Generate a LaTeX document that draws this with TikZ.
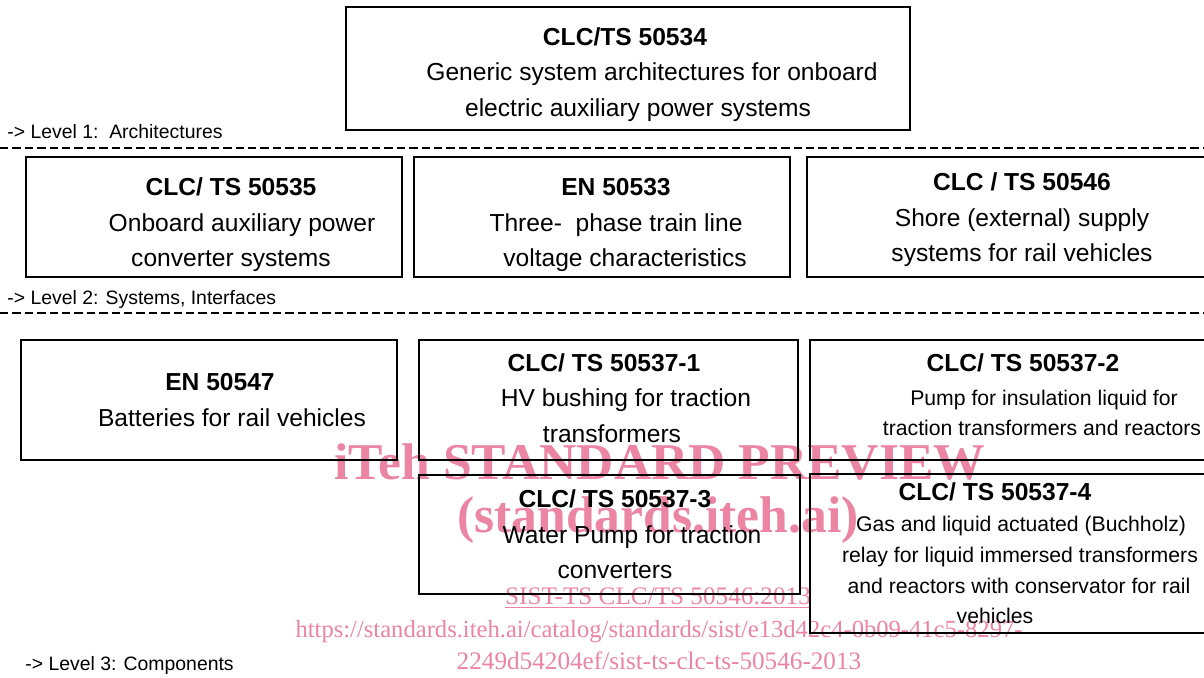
\documentclass[tikz,border=0pt]{standalone}
\usepackage{fontspec}
\setmainfont{Liberation Sans}
\newfontfamily\wmfont{Liberation Serif}
\definecolor{wmPink}{RGB}{236,132,163}
\tikzset{
  stdbox/.style={draw=black,line width=.65pt,inner sep=0pt},
  stdtext/.style={align=center,inner sep=0pt,font=\fontsize{12.3}{17.8}\selectfont},
  smalltext/.style={align=center,inner sep=0pt,font=\fontsize{10.6}{15}\selectfont},
  levellabel/.style={anchor=west,inner sep=0pt,font=\fontsize{9.7}{11}\selectfont},
  levelline/.style={line width=1pt,dash pattern=on 4.2pt off 2pt},
  wmtitle/.style={text=wmPink,inner sep=0pt,font=\wmfont\bfseries\fontsize{25.8}{28}\selectfont},
  wmsmall/.style={text=wmPink,inner sep=0pt,font=\wmfont\fontsize{12.6}{14}\selectfont}
}
\begin{document}
\begin{tikzpicture}[x=0.5pt,y=-0.5pt]
\clip (0,0) rectangle (1204,677);
\fill[white] (0,0) rectangle (1204,677);

% watermark
\node[wmtitle] (wmA) at (660,462) {iTeh STANDARD PREVIEW};
\node[wmtitle] (wmB) at (658,520) {(standards.iteh.ai)};
\node[wmsmall] (wmC) at (658,598) {\underline{SIST-TS CLC/TS 50546:2013}};
\node[wmsmall,font=\wmfont\fontsize{12.3}{14}\selectfont] (wmD) at (659,632) {https://standards.iteh.ai/catalog/standards/sist/e13d42c4-0b09-41c5-8297-};
\node[wmsmall] (wmE) at (659,661) {2249d54204ef/sist-ts-clc-ts-50546-2013};

% level 1
\node[stdbox,minimum width=282pt,minimum height=61.5pt] (ts50534) at (628,68.5) {};
\node[stdtext] (ts50534txt) at ([xshift=-1.5pt,yshift=-3pt]ts50534.center) {{\bfseries CLC/TS 50534}\\\hspace*{27pt}Generic system architectures for onboard\\\hspace*{13pt}electric auxiliary power systems};
\node[levellabel] (lvlA) at (7,132) {-> Level 1:\ \ Architectures};
\draw[levelline] (0,148) -- (1204,148);

% level 2
\node[stdbox,minimum width=188pt,minimum height=60pt] (ts50535) at (214,217) {};
\node[stdtext] (ts50535txt) at ([xshift=8.5pt,yshift=-4pt]ts50535.center) {{\bfseries CLC/ TS 50535}\\\hspace*{11pt}Onboard auxiliary power\\converter systems};
\node[stdbox,minimum width=188pt,minimum height=60pt] (en50533) at (602,217) {};
\node[stdtext] (en50533txt) at ([xshift=7pt,yshift=-4pt]en50533.center) {{\bfseries EN 50533}\\Three-\ \ phase train line\\\hspace*{9pt}voltage characteristics};
\node[stdbox,minimum width=204pt,minimum height=60pt] (ts50546) at (1011,217) {};
\node[stdtext] (ts50546txt) at ([xshift=5.5pt,yshift=-1.5pt]ts50546.center) {{\bfseries CLC / TS 50546}\\Shore (external) supply\\systems for rail vehicles};
\node[levellabel] (lvlB) at (7,299) {-> Level 2: Systems, Interfaces};
\draw[levelline] (0,313) -- (1204,313);

% level 3
\node[stdbox,minimum width=188pt,minimum height=60pt] (en50547) at (209,400) {};
\node[stdtext] (en50547txt) at ([xshift=5.5pt]en50547.center) {{\bfseries EN 50547}\\\hspace*{12pt}Batteries for rail vehicles};
\node[stdbox,minimum width=189.5pt,minimum height=60pt] (ts50537a) at (608.5,400) {};
\node[stdtext] (ts50537atxt) at ([xshift=-2.25pt,yshift=1pt]ts50537a.center) {{\bfseries CLC/ TS 50537-1}\\\hspace*{22pt}HV bushing for traction\\\hspace*{8pt}transformers};
\node[stdbox,minimum width=202.5pt,minimum height=60pt] (ts50537b) at (1012.5,400) {};
\node[smalltext] (ts50537btxt) at ([xshift=5.25pt,yshift=2.5pt]ts50537b.center) {{\bfseries\fontsize{12.3}{20}\selectfont CLC/ TS 50537-2}\\[2pt]\hspace*{21pt}Pump for insulation liquid for\\\hspace*{19pt}traction transformers and reactors};
\node[stdbox,minimum width=190.5pt,minimum height=59.5pt] (ts50537c) at (609.5,534.5) {};
\node[stdtext] (ts50537ctxt) at ([xshift=2.75pt]ts50537c.center) {{\bfseries CLC/ TS 50537-3}\\\hspace*{17pt}Water Pump for traction\\converters};
\node[stdbox,minimum width=202.5pt,minimum height=79.5pt] (ts50537d) at (1012.5,553.5) {};
\node[smalltext,font=\fontsize{10.6}{15.4}\selectfont] (ts50537dtxt) at ([xshift=-8.75pt]ts50537d.center) {{\bfseries\fontsize{12.3}{17}\selectfont CLC/ TS 50537-4}\\\hspace*{26pt}Gas and liquid actuated (Buchholz)\\\hspace*{25pt}relay for liquid immersed transformers\\\hspace*{24pt}and reactors with conservator for rail\\vehicles};
\node[levellabel] (lvlC) at (25,665) {-> Level 3: Components};
\end{tikzpicture}
\end{document}
